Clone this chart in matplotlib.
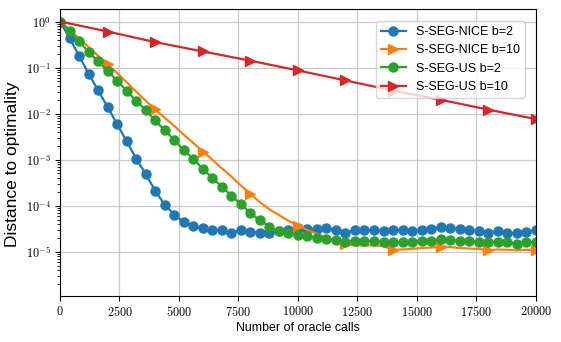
import numpy as np
import matplotlib
matplotlib.use("Agg")
import matplotlib.pyplot as plt
from matplotlib.ticker import FuncFormatter, LogLocator, NullFormatter

plt.rcParams['font.family'] = ['Liberation Sans', 'DejaVu Sans']
plt.rcParams['mathtext.fontset'] = 'cm'

# oracle calls for the b=2 runs (one point every 400 calls)
calls_b2 = np.arange(0, 20001, 400)
# oracle calls for S-SEG-US b=10 (one point every 2000 calls)
calls_us10 = np.arange(0, 20001, 2000)

nice_b2 = [1.0, 0.44, 0.18, 0.074, 0.032, 0.014, 0.0059, 0.0025, 0.00105, 4.9e-4,
           2.1e-4, 1.05e-4, 6.4e-5, 4.4e-5, 3.6e-5, 3.2e-5, 3.0e-5, 3.0e-5, 2.6e-5, 2.9e-5,
           2.7e-5, 2.6e-5, 2.5e-5, 2.8e-5, 3.0e-5, 3.2e-5, 3.1e-5, 3.1e-5, 3.3e-5, 2.9e-5,
           2.6e-5, 2.9e-5, 3.0e-5, 2.9e-5, 2.8e-5, 2.9e-5, 3.0e-5, 2.8e-5, 2.9e-5, 3.1e-5,
           3.4e-5, 3.3e-5, 3.1e-5, 3.0e-5, 2.8e-5, 2.6e-5, 2.8e-5, 2.6e-5, 2.5e-5, 2.7e-5,
           2.9e-5]

nice_b10 = [1.0, 0.66, 0.43, 0.28, 0.18, 0.117, 0.076, 0.048, 0.030, 0.019,
            0.0123, 0.0081, 0.0054, 0.0035, 0.0023, 0.0015, 0.0010, 6.5e-4, 4.3e-4, 2.75e-4,
            1.8e-4, 1.2e-4, 8.3e-5, 6.3e-5, 4.7e-5, 3.7e-5, 2.95e-5, 2.45e-5, 2.0e-5, 1.66e-5,
            1.45e-5, 1.38e-5, 1.35e-5, 1.38e-5, 1.32e-5, 1.1e-5, 1.12e-5, 1.15e-5, 1.2e-5, 1.23e-5,
            1.29e-5, 1.26e-5, 1.2e-5, 1.17e-5, 1.15e-5, 1.07e-5, 1.12e-5, 1.1e-5, 1.07e-5, 1.1e-5,
            1.1e-5]

us_b2 = [1.0, 0.63, 0.37, 0.22, 0.136, 0.085, 0.052, 0.031, 0.019, 0.012,
         0.0071, 0.0043, 0.0027, 0.0016, 0.00104, 6.3e-4, 4.0e-4, 2.6e-4, 1.66e-4, 1.08e-4,
         7.0e-5, 4.8e-5, 3.5e-5, 2.8e-5, 2.6e-5, 2.35e-5, 2.2e-5, 2.0e-5, 1.9e-5, 1.8e-5,
         1.65e-5, 1.7e-5, 1.7e-5, 1.7e-5, 1.65e-5, 1.65e-5, 1.6e-5, 1.65e-5, 1.7e-5, 1.75e-5,
         1.9e-5, 1.8e-5, 1.75e-5, 1.7e-5, 1.65e-5, 1.6e-5, 1.6e-5, 1.6e-5, 1.5e-5, 1.6e-5,
         1.65e-5]

us_b10 = [1.0, 0.607, 0.357, 0.224, 0.141, 0.0865, 0.0525, 0.0316, 0.020, 0.0122, 0.0076]

labels = ['S-SEG-NICE b=2', 'S-SEG-NICE b=10', 'S-SEG-US b=2', 'S-SEG-US b=10']

fig = plt.figure(figsize=(5.61, 3.42), dpi=100)
ax = fig.add_axes([0.107, 0.135, 0.848, 0.838])

ax.plot(calls_b2, nice_b2, color='#1f77b4', marker='o', ms=6.5, lw=1.6, label=labels[0])
ax.plot(calls_b2, nice_b10, color='#ff7f0e', marker='>', ms=7, lw=1.6, markevery=5, label=labels[1])
ax.plot(calls_b2, us_b2, color='#2ca02c', marker='o', ms=6.5, lw=1.6, label=labels[2])
ax.plot(calls_us10, us_b10, color='#d62728', marker='>', ms=7, lw=1.6, label=labels[3])

ax.set_yscale('log')
ax.set_xlim(0, 20000)
ax.set_ylim(1.1e-6, 1.85)
ax.set_xticks(np.arange(0, 20001, 2500))
ax.xaxis.set_major_formatter(FuncFormatter(lambda v, p: '$%d$' % int(v)))
ax.yaxis.set_major_locator(LogLocator(base=10, numticks=12))
ax.yaxis.set_minor_locator(LogLocator(base=10, subs=np.arange(2, 10), numticks=12))
ax.yaxis.set_minor_formatter(NullFormatter())
ax.yaxis.set_major_formatter(FuncFormatter(lambda v, p: '$10^{%d}$' % int(round(np.log10(v)))))
ax.tick_params(labelsize=8.8, pad=3)
ax.grid(True, which='major', color='#c8c8c8', lw=0.9)

ax.set_xlabel('Number of oracle calls', fontsize=8.9, labelpad=2)
ax.set_ylabel('Distance to optimality', fontsize=12.5)
ax.yaxis.set_label_coords(-0.084, 0.46)
ax.legend(loc='upper right', fontsize=9, bbox_to_anchor=(0.99, 0.98))

fig.savefig('out.png', dpi=100)
